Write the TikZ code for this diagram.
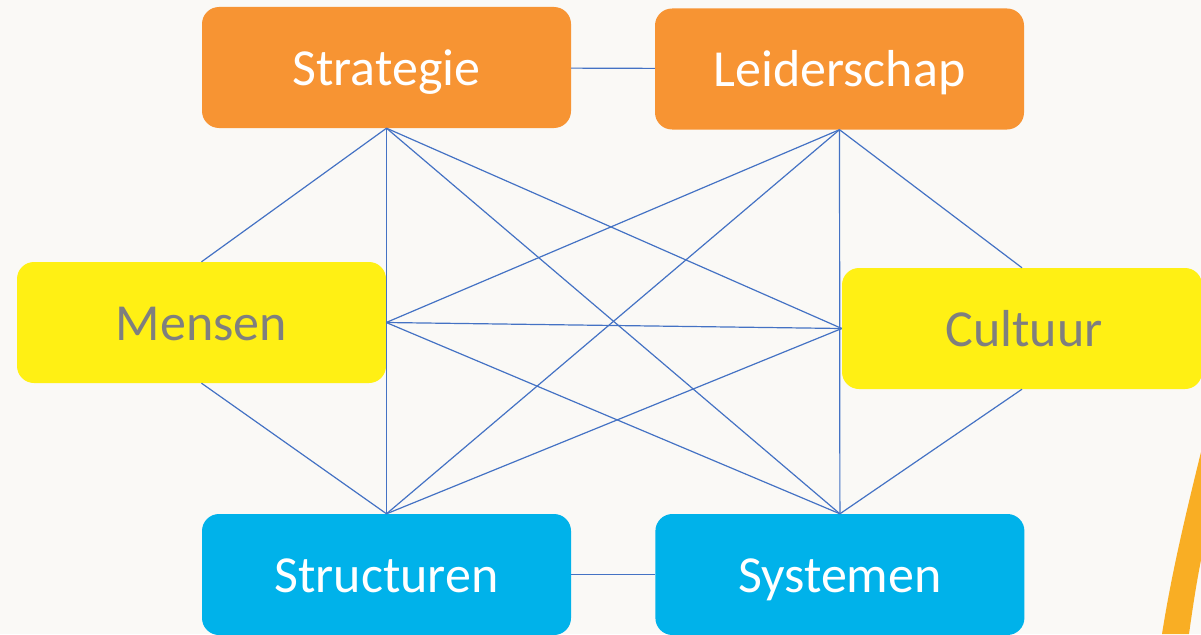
\documentclass[tikz,border=0pt]{standalone}
\usepackage{fontspec}
\setmainfont{Carlito}
\usetikzlibrary{positioning}

\definecolor{achter}{HTML}{FAF9F6}
\definecolor{oranje}{HTML}{F79433}
\definecolor{geel}{HTML}{FFF014}
\definecolor{blauw}{HTML}{00B2EA}
\definecolor{lijn}{HTML}{4472C4}
\definecolor{grijs}{HTML}{7F7F7F}
\definecolor{boog}{HTML}{F9AE24}

\tikzset{
  blok/.style={rounded corners=17pt, minimum width=369pt, minimum height=121pt,
    inner sep=0pt, text height=35pt, text depth=0pt, font=\fontsize{52}{60}\selectfont},
  oranjeblok/.style={blok, fill=oranje, text=white},
  geelblok/.style={blok, fill=geel, text=grijs},
  blauwblok/.style={blok, fill=blauw, text=white},
  verbind/.style={draw=lijn, line width=1.2pt}
}

\begin{document}
\begin{tikzpicture}[x=1pt, y=-1pt]
        \useasboundingbox (0,0) rectangle (1201,634);
        \fill[achter] (0,0) rectangle (1201,634);
        \clip (0,0) rectangle (1201,634);

        % boog rechtsonder
        \fill[boog] (1201,452) .. controls (1188,505) and (1172,570) .. (1162,634)
            -- (1189,634) .. controls (1193,605) and (1197,580) .. (1201,560) -- cycle;

        \node[oranjeblok] (strat) at (386.5,67.5) {Strategie};
        \node[oranjeblok] (leider) at (839.5,69) {Leiderschap};
        \node[geelblok] (mensen) at (201.5,322.5) {Mensen};
        \node[geelblok, minimum width=360pt] (cultuur) at (1022,328.5) {\hspace*{4pt}Cultuur};
        \node[blauwblok] (struct) at (386.5,574.5) {Structuren};
        \node[blauwblok] (syst) [right=84pt of struct] {Systemen};

        \draw[verbind] (strat) -- (leider);
        \draw[verbind] (struct) -- (syst);

        \draw[verbind] (strat.south) -- (mensen.north);
        \draw[verbind] (strat.south) -- (struct.north);
        \draw[verbind] (strat.south) -- (cultuur.west);
        \draw[verbind] (strat.south) -- (syst.north);

        \draw[verbind] (leider.south) -- (cultuur.north);
        \draw[verbind] (leider.south) -- (syst.north);
        \draw[verbind] (leider.south) -- (mensen.east);
        \draw[verbind] (leider.south) -- (struct.north);

        \draw[verbind] (mensen.east) -- (cultuur.west);
        \draw[verbind] (mensen.east) -- (syst.north);
        \draw[verbind] (cultuur.west) -- (struct.north);
        \draw[verbind] (mensen.south) -- (struct.north);
        \draw[verbind] (cultuur.south) -- (syst.north);
\end{tikzpicture}
\end{document}
